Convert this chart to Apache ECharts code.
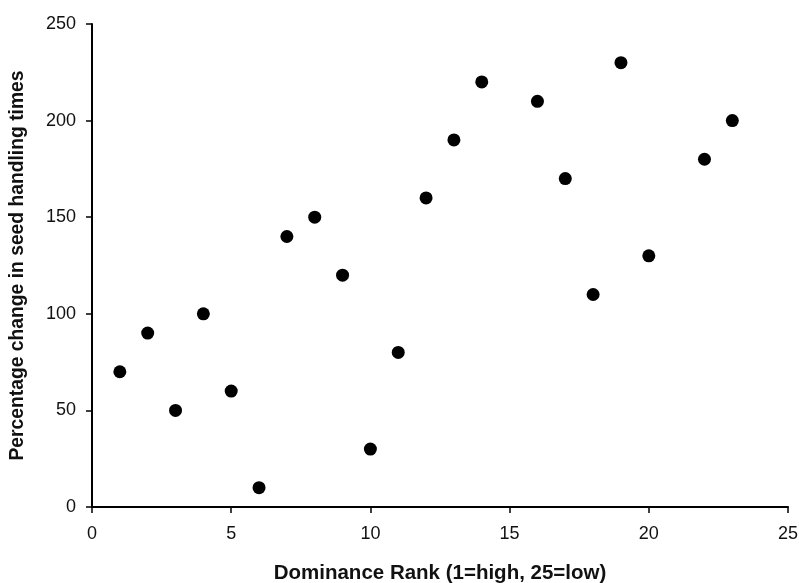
<!DOCTYPE html>
<html><head><meta charset="utf-8">
<script src="https://cdn.jsdelivr.net/npm/echarts@6/dist/echarts.min.js"></script>
<style>html,body{margin:0;padding:0;background:#fff}#c{width:799px;height:583px}</style>
</head><body><div id="c"></div>
<script>
const rank = [1,2,3,4,5,6,7,8,9,10,11,12,13,14,16,17,18,19,20,22,23];
const pctChange = [70,90,50,100,60,10,140,150,120,30,80,160,190,220,210,170,110,230,130,180,200];
const xTitle = 'Dominance Rank (1=high, 25=low)';
const yTitle = 'Percentage change in seed handling times';
const chart = echarts.init(document.getElementById('c'));
const font = 'Liberation Sans, Arial, sans-serif';
chart.setOption({
  animation:false,
  grid:{left:92,right:11,top:24,bottom:76,containLabel:false,outerBoundsMode:'none'},
  xAxis:{type:'value',min:0,max:25,interval:5,
    name:xTitle,nameLocation:'middle',nameGap:56,
    nameTextStyle:{fontFamily:font,fontWeight:'bold',fontSize:20.5,color:'#111'},
    axisLine:{lineStyle:{color:'#000',width:2}},
    axisTick:{show:true,length:6,lineStyle:{color:'#000',width:1.5}},
    axisLabel:{fontFamily:font,fontSize:18,color:'#111',margin:18},
    splitLine:{show:false}},
  yAxis:{type:'value',min:0,max:250,interval:50,
    name:yTitle,nameLocation:'middle',nameGap:65,
    nameTextStyle:{fontFamily:font,fontWeight:'bold',fontSize:19.3,color:'#111'},
    axisLine:{show:true,lineStyle:{color:'#000',width:2}},
    axisTick:{show:true,length:6,lineStyle:{color:'#000',width:1.5}},
    axisLabel:{fontFamily:font,fontSize:18,color:'#111',margin:16},
    splitLine:{show:false}},
  series:[{type:'scatter',symbol:'circle',symbolSize:13,
    itemStyle:{color:'#000',opacity:1},
    data:rank.map((r,i)=>[r,pctChange[i]])}]
});
</script></body></html>
